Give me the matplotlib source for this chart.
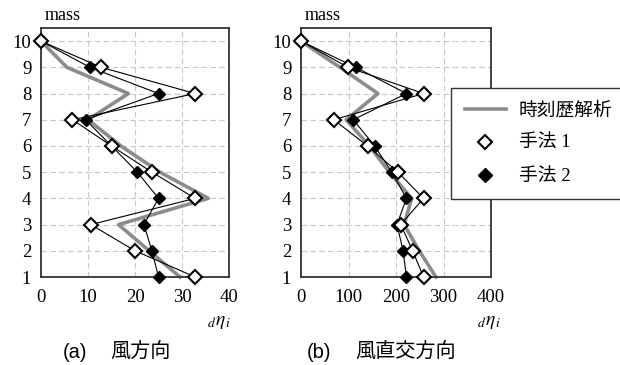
import matplotlib
matplotlib.use('Agg')
import matplotlib.pyplot as plt
from matplotlib.lines import Line2D

plt.rcParams['mathtext.fontset'] = 'stix'

# 質点番号
mass = [10, 9, 8, 7, 6, 5, 4, 3, 2, 1]

# (a) 風方向
wind_hist = [0, 5.5, 18.6, 10.0, 17.0, 25.3, 35.6, 16.5, 23.0, 29.6]
wind_m1 = [0, 12.8, 32.8, 6.7, 15.0, 23.6, 32.8, 10.6, 20.0, 32.8]
wind_m2 = [0, 10.4, 25.0, 9.5, 15.0, 20.5, 25.0, 21.9, 23.6, 25.0]

# (b) 風直交方向
cross_hist = [0, 82, 162, 95, 144, 186, 233, 217, 249, 284]
cross_m1 = [0, 99, 258, 69, 140, 204, 258, 210, 235, 258]
cross_m2 = [0, 115, 222, 110, 155, 191, 222, 202, 215, 222]

xticks_a = [0, 10, 20, 30, 40]
xticks_b = [0, 100, 200, 300, 400]

SERIF = ['Liberation Serif', 'Noto Sans CJK JP']
SANS = ['Liberation Sans', 'Noto Sans CJK JP']

fig = plt.figure(figsize=(6.2, 3.65), dpi=100)
W, H = 620, 365


def make_axes(x0, x1, y0=28, y1=277):
    return fig.add_axes([x0 / W, 1 - y1 / H, (x1 - x0) / W, (y1 - y0) / H])


def draw_panel(ax, hist, m1, m2, xticks, eta_x):
    ax.plot(hist, mass, color='#8c8c8c', lw=2.6, zorder=2, clip_on=False)
    ax.plot(m2, mass, color='black', lw=0.8, marker='D', ms=6,
            mfc='black', mec='black', zorder=3, clip_on=False)
    ax.plot(m1, mass, color='black', lw=0.8, marker='D', ms=7,
            mfc='white', mec='black', mew=1.5, zorder=4, clip_on=False)
    ax.set_xlim(xticks[0], xticks[-1])
    ax.set_ylim(1, 10.5)
    ax.set_xticks(xticks)
    ax.set_yticks(range(1, 11))
    ax.grid(True, color='#c8c8c8', ls=(0, (5, 3)), lw=0.8)
    ax.set_axisbelow(True)
    ax.tick_params(length=0, labelsize=13.5)
    ax.tick_params(axis='x', pad=9)
    ax.tick_params(axis='y', pad=7)
    for lab in ax.get_xticklabels() + ax.get_yticklabels():
        lab.set_family(SERIF)
    for s in ax.spines.values():
        s.set_color('#333333')
        s.set_linewidth(1.3)
    ax.text(0.02, 1.015, 'mass', transform=ax.transAxes, family=SERIF,
            fontsize=13, ha='left', va='bottom')
    ax.text(eta_x, -0.18, r'$_{d}\eta_{\,i}$', transform=ax.transAxes,
            fontsize=14, ha='center', va='center')


ax1 = make_axes(41, 229)
ax2 = make_axes(301, 491)
draw_panel(ax1, wind_hist, wind_m1, wind_m2, xticks_a, 0.95)
draw_panel(ax2, cross_hist, cross_m1, cross_m2, xticks_b, 0.99)

handles = [
    Line2D([], [], color='#8c8c8c', lw=2.6),
    Line2D([], [], ls='none', marker='D', ms=7, mfc='white', mec='black', mew=1.5),
    Line2D([], [], ls='none', marker='D', ms=7, mfc='black', mec='black'),
]
labels = ['時刻歴解析', '手法 1', '手法 2']
leg = fig.legend(handles, labels, loc='upper left',
                 bbox_to_anchor=(451 / W, 1 - 88 / H),
                 prop={'family': SERIF, 'size': 13.5},
                 frameon=True, fancybox=False, framealpha=1,
                 handlelength=2.2, handletextpad=0.7,
                 labelspacing=0.85, borderpad=0.72, borderaxespad=0)
leg.get_frame().set_edgecolor('#333333')
leg.get_frame().set_linewidth(1.0)
leg.set_zorder(10)

cap_y = 1 - 352 / H
fig.text(63 / W, cap_y, '(a)', family=SANS, fontsize=14.5, va='center')
fig.text(110 / W, cap_y, '風方向', family=SANS, fontsize=14.5, va='center')
fig.text(307 / W, cap_y, '(b)', family=SANS, fontsize=14.5, va='center')
fig.text(355 / W, cap_y, '風直交方向', family=SANS, fontsize=14.5, va='center')

fig.savefig('out.png', dpi=100)
